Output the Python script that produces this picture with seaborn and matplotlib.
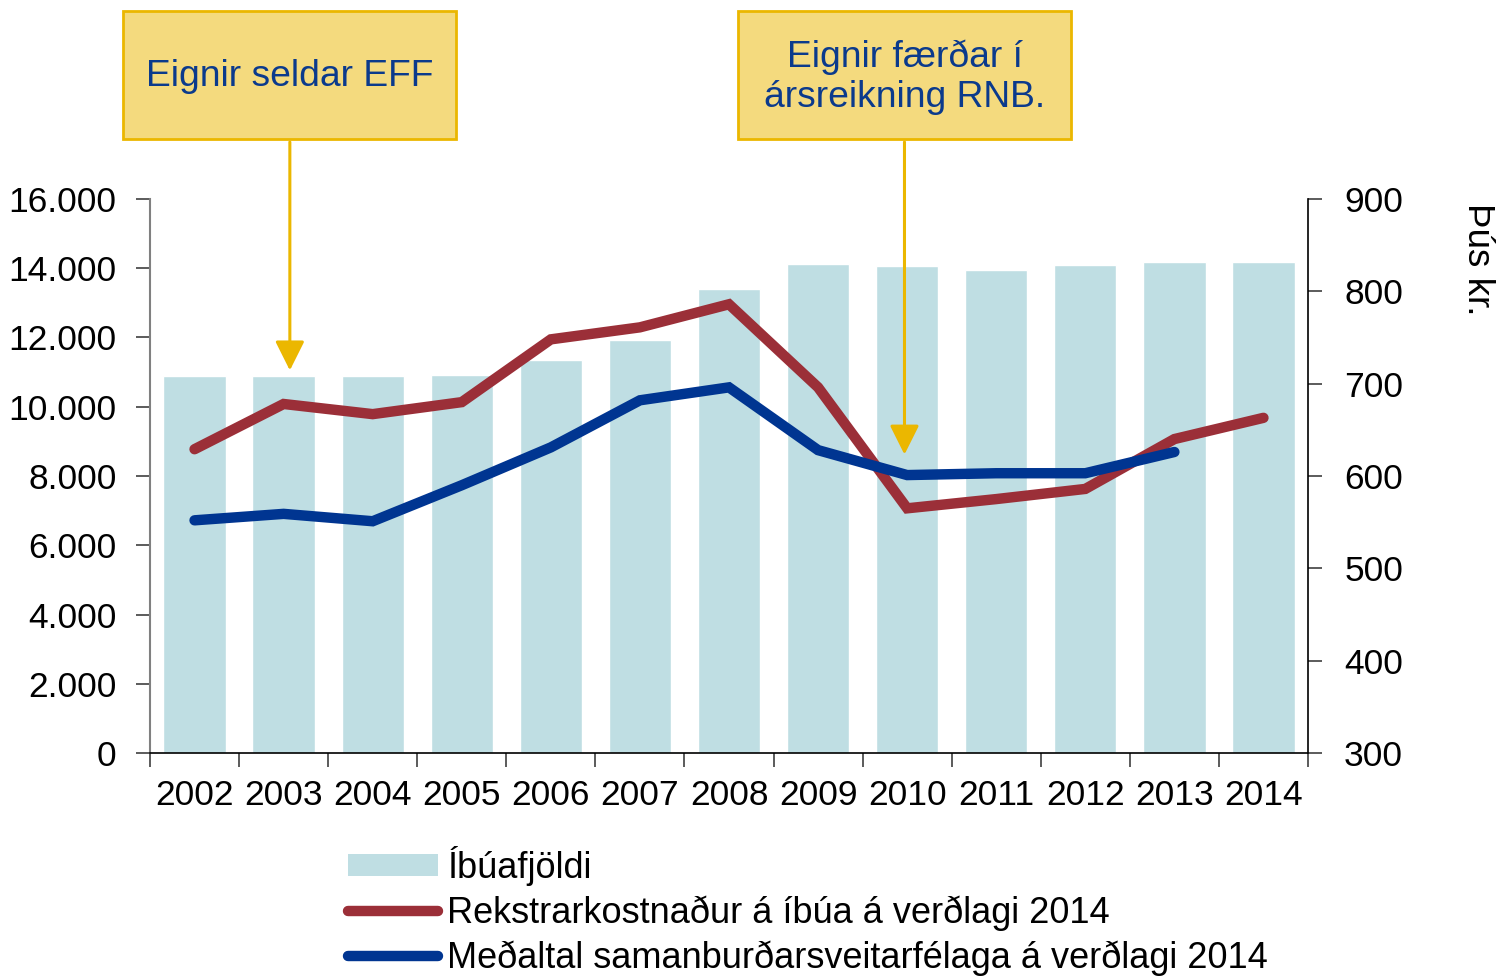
import numpy as np
import pandas as pd
import matplotlib
matplotlib.use("Agg")
import matplotlib.pyplot as plt
from matplotlib.patches import Rectangle, Patch
from matplotlib.lines import Line2D
import seaborn as sns

# ---- data ----
years = ["2002", "2003", "2004", "2005", "2006", "2007", "2008",
         "2009", "2010", "2011", "2012", "2013", "2014"]
population = [10900, 10900, 10880, 10920, 11350, 11930, 13400,
              14120, 14070, 13950, 14090, 14180, 14180]
cost_per_resident = [629, 678, 667, 680, 748, 761, 786,
                     696, 565, 575, 586, 640, 663]
comparison_avg = [552, 559, 551, 590, 631, 682, 696,
                  628, 601, 603, 603, 626]
left_ticks = [0, 2000, 4000, 6000, 8000, 10000, 12000, 14000, 16000]
left_tick_labels = ["0", "2.000", "4.000", "6.000", "8.000", "10.000",
                    "12.000", "14.000", "16.000"]
right_ticks = [300, 400, 500, 600, 700, 800, 900]
right_tick_labels = ["300", "400", "500", "600", "700", "800", "900"]
legend_labels = ["Íbúafjöldi",
                 "Rekstrarkostnaður á íbúa á verðlagi 2014",
                 "Meðaltal samanburðarsveitarfélaga á verðlagi 2014"]
right_axis_label = "Þús kr."
note1 = "Eignir seldar EFF"
note2 = "Eignir færðar í\nársreikning RNB."
note1_target = (1.07, 11050)   # (x position, left-axis value)
note2_target = (7.97, 8620)

# ---- style ----
sns.set_theme(style="white")
plt.rcParams["font.family"] = ["Liberation Sans", "DejaVu Sans"]
plt.rcParams["text.color"] = "black"
plt.rcParams["xtick.color"] = "black"
plt.rcParams["ytick.color"] = "black"

BAR_C = "#BFDEE3"
RED = "#9B2F38"
BLUE = "#003591"
GOLD = "#EBB700"
BOXFILL = "#F4DA7E"
TXTBLUE = "#0B3A8C"
FS = 25.5

W, H = 1497, 980
fig = plt.figure(figsize=(W / 100, H / 100), dpi=100)
ax = fig.add_axes([150 / W, 1 - 753 / H, (1308 - 150) / W, (753 - 199) / H])

df_bar = pd.DataFrame({"year": years, "pop": population})
sns.barplot(data=df_bar, x="year", y="pop", color=BAR_C, saturation=1,
            width=0.7, ax=ax)
ax.set_xlim(-0.5, len(years) - 0.5)
ax.set_ylim(left_ticks[0], left_ticks[-1])
ax.set_yticks(left_ticks)
ax.set_yticklabels(left_tick_labels, fontsize=FS, color="black")
ax.set_xlabel("")
ax.set_ylabel("")

ax.set_xticks(range(len(years)))
ax.set_xticklabels(years, fontsize=FS, color="black")
ax.set_xticks(np.arange(-0.5, len(years)), minor=True)
ax.tick_params(axis="x", which="major", length=0, pad=19)
ax.tick_params(axis="x", which="minor", length=10, width=1.2, color="#404040",
               direction="out", bottom=True)
ax.tick_params(axis="y", which="major", length=10, width=1.2, color="#404040",
               direction="out", pad=14, left=True)

for s in ["top", "right"]:
    ax.spines[s].set_visible(False)
ax.spines["left"].set_color("#808080")
ax.spines["left"].set_linewidth(1.5)
ax.spines["bottom"].set_color("black")
ax.spines["bottom"].set_linewidth(1.2)

ax2 = ax.twinx()
x_red = np.arange(len(cost_per_resident))
x_blue = np.arange(len(comparison_avg))
sns.lineplot(x=x_red, y=cost_per_resident, ax=ax2, color=RED, lw=7.5,
             solid_capstyle="round", solid_joinstyle="miter")
sns.lineplot(x=x_blue, y=comparison_avg, ax=ax2, color=BLUE, lw=7.5,
             solid_capstyle="round", solid_joinstyle="miter")
ax2.set_xlim(-0.5, len(years) - 0.5)
ax2.set_ylim(right_ticks[0], right_ticks[-1])
ax2.set_yticks(right_ticks)
ax2.set_yticklabels(right_tick_labels, fontsize=FS, color="black")
ax2.tick_params(axis="y", length=10, width=1.2, color="#404040",
                direction="out", pad=16, right=True)
for s in ["top", "left", "bottom"]:
    ax2.spines[s].set_visible(False)
ax2.spines["right"].set_color("black")
ax2.spines["right"].set_linewidth(1.2)
ax2.set_ylabel("")

fig.text(1478 / W, 1 - 203 / H, right_axis_label, rotation=270,
         ha="center", va="top", fontsize=26.5, color="black")

# ---- annotation boxes ----
def add_box(x0, x1, y0, y1, text, target):
    rect = Rectangle((x0 / W, 1 - y1 / H), (x1 - x0) / W, (y1 - y0) / H,
                     transform=fig.transFigure, facecolor=BOXFILL,
                     edgecolor=GOLD, lw=2, zorder=5)
    fig.patches.append(rect)
    fig.text((x0 + x1) / 2 / W, 1 - (y0 + y1 + 4) / 2 / H, text, ha="center",
             va="center", fontsize=26.8, color=TXTBLUE, linespacing=1.2,
             zorder=6)
    ax.annotate("", xy=target, xycoords="data",
                xytext=(target[0], 1 - (y1 + 3) / H),
                textcoords=("data", "figure fraction"),
                arrowprops=dict(arrowstyle="-|>,head_length=0.9,head_width=0.45",
                                mutation_scale=20, color=GOLD, lw=2.2,
                                shrinkA=0, shrinkB=0),
                annotation_clip=False, zorder=6)

add_box(123, 456, 11, 139, note1, note1_target)
add_box(738, 1071, 11, 139, note2, note2_target)

# ---- legend ----
handles = [Patch(facecolor=BAR_C, edgecolor="none"),
           Line2D([], [], color=RED, lw=7.5, solid_capstyle="round"),
           Line2D([], [], color=BLUE, lw=7.5, solid_capstyle="round")]
leg = fig.legend(handles, legend_labels, loc="upper left",
                 bbox_to_anchor=(348 / W, 1 - 846 / H), frameon=False,
                 fontsize=26, handlelength=2.5, handletextpad=0.25,
                 labelspacing=0.26, borderpad=0, borderaxespad=0,
                 handleheight=0.55)
for t in leg.get_texts():
    t.set_color("black")

fig.savefig("out.png", dpi=100)
